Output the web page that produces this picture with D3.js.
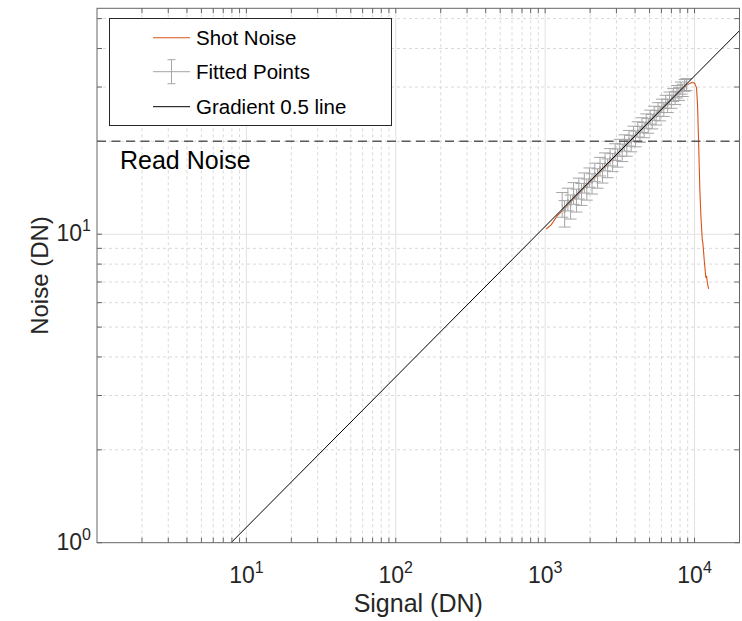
<!DOCTYPE html>
<html>
<head>
<meta charset="utf-8">
<script src="https://cdn.jsdelivr.net/npm/d3@7/dist/d3.min.js"></script>
<style>
  html, body { margin: 0; padding: 0; background: #fff; }
  svg { display: block; }
  text { font-family: "Liberation Sans", Arial, Helvetica, sans-serif; }
</style>
</head>
<body>
<svg id="chart" width="742" height="621"></svg>
<script>
// Photon transfer curve: noise vs signal on log-log axes

// Shot noise curve (signal DN, noise DN)
const shotSignal = [1016, 1097, 1204, 1321, 1495, 1744, 2376, 3236, 4406, 6003, 7568, 8831,
  9550, 10000, 10314, 10474, 10640, 10855, 11024, 11270, 11368, 11620, 11910, 12040, 12170, 12420];
const shotNoise = [10.40, 10.72, 11.47, 11.99, 12.77, 13.82, 16.05, 18.76, 21.79, 25.30, 28.30, 30.38,
  31.01, 30.94, 29.81, 26.26, 20.22, 13.92, 11.55, 9.58, 9.39, 8.22, 7.22, 7.33, 7.00, 6.65];

// Fitted points with their error (± DN)
const fitSignal = [1300, 1350, 1420, 1480, 1550, 1620, 1680, 1750, 1830, 1900, 1980, 2060, 2150, 2240,
  2330, 2420, 2520, 2620, 2720, 2830, 2940, 3050, 3160, 3280, 3400, 3520, 3640, 3770, 3900, 4030,
  4170, 4310, 4450, 4600, 4750, 4900, 5050, 5210, 5370, 5530, 5700, 5870, 6050, 6230, 6420, 6610,
  6800, 7000, 7200, 7420, 7640, 7870, 8100, 8340, 8580, 8830];
const fitNoise = [12.5, 11.7, 13.0, 12.3, 13.6, 12.9, 14.1, 13.5, 14.7, 14.0, 15.3, 14.6, 15.9, 15.2,
  16.6, 15.8, 17.2, 16.4, 17.8, 17.1, 18.5, 17.7, 19.1, 18.4, 19.8, 19.1, 20.5, 19.7, 21.2, 20.4,
  21.9, 21.1, 22.6, 21.8, 23.3, 22.5, 24.0, 23.2, 24.7, 23.9, 25.4, 24.6, 26.1, 25.4, 26.9, 26.1,
  27.6, 26.9, 28.3, 27.7, 29.0, 28.5, 29.8, 29.3, 30.4, 30.6];
const fitError = [1.15, 1.15, 1.1, 1.1, 1.1, 1.1, 1.1, 1.1, 1.1, 1.1, 1.1, 1.1, 1.1, 1.1,
  1.15, 1.15, 1.15, 1.15, 1.15, 1.15, 1.15, 1.2, 1.2, 1.2, 1.2, 1.2, 1.2, 1.2, 1.2, 1.2,
  1.25, 1.25, 1.25, 1.25, 1.25, 1.25, 1.25, 1.25, 1.3, 1.3, 1.3, 1.3, 1.3, 1.3, 1.3, 1.3,
  1.3, 1.3, 1.35, 1.35, 1.35, 1.35, 1.35, 1.35, 1.35, 1.35];

// Reference line end points and read noise level
const gradientSignal = [7.9, 20000];
const gradientNoise = [1, 45.7];
const readNoise = 20;

// Axis limits and tick labels
const xLimits = [1, 20000];
const yLimits = [1, 54];
const xTickValues = [10, 100, 1000, 10000];
const xTickExponents = ["1", "2", "3", "4"];
const yTickValues = [1, 10];
const yTickExponents = ["0", "1"];

const legendLabels = ["Shot Noise", "Fitted Points", "Gradient 0.5 line"];

const svg = d3.select("#chart");
const L = 97, R = 739.5, T = 8.3, B = 542.7;

const x = d3.scaleLog().domain(xLimits).range([L, R]);
const y = d3.scaleLog().domain(yLimits).range([B, T]);

// minor tick positions for each decade
function minorTicks(lo, hi) {
  const out = [];
  for (let p = Math.floor(Math.log10(lo)); p <= Math.ceil(Math.log10(hi)); p++) {
    for (let m = 2; m <= 9; m++) {
      const v = m * Math.pow(10, p);
      if (v > lo && v < hi) out.push(v);
    }
  }
  return out;
}
const xMinor = minorTicks(xLimits[0], xLimits[1]);
const yMinor = minorTicks(yLimits[0], yLimits[1]);

const grid = svg.append("g");
// minor grid (dotted)
grid.selectAll(".xm").data(xMinor).join("line")
  .attr("x1", d => x(d)).attr("x2", d => x(d)).attr("y1", T).attr("y2", B)
  .attr("stroke", "#d9d9d9").attr("stroke-width", 1).attr("stroke-dasharray", "3,3");
grid.selectAll(".ym").data(yMinor).join("line")
  .attr("y1", d => y(d)).attr("y2", d => y(d)).attr("x1", L).attr("x2", R)
  .attr("stroke", "#d9d9d9").attr("stroke-width", 1).attr("stroke-dasharray", "3,3");
// major grid (solid)
grid.selectAll(".xM").data(xTickValues).join("line")
  .attr("x1", d => x(d)).attr("x2", d => x(d)).attr("y1", T).attr("y2", B)
  .attr("stroke", "#e2e2e2").attr("stroke-width", 1);
grid.selectAll(".yM").data(yTickValues.filter(v => v > yLimits[0])).join("line")
  .attr("y1", d => y(d)).attr("y2", d => y(d)).attr("x1", L).attr("x2", R)
  .attr("stroke", "#e2e2e2").attr("stroke-width", 1);

const plot = svg.append("g");
svg.append("clipPath").attr("id", "clip").append("rect")
  .attr("x", L).attr("y", T).attr("width", R - L).attr("height", B - T);
plot.attr("clip-path", "url(#clip)");

// shot noise curve
const shot = shotSignal.map((s, i) => [s, shotNoise[i]]);
plot.append("path").datum(shot)
  .attr("d", d3.line().x(d => x(d[0])).y(d => y(d[1])))
  .attr("fill", "none").attr("stroke", "#D95319").attr("stroke-width", 1.1);

// fitted points with error bars
const fit = fitSignal.map((s, i) => ({ s, n: fitNoise[i], e: fitError[i] }));
const errColor = "#a6a6a6";
plot.append("path").datum(fit)
  .attr("d", d3.line().x(d => x(d.s)).y(d => y(d.n)))
  .attr("fill", "none").attr("stroke", errColor).attr("stroke-width", 1);
const bars = plot.append("g").attr("stroke", errColor).attr("stroke-width", 1);
fit.forEach(d => {
  const cx = x(d.s), y0 = y(d.n - d.e), y1 = y(d.n + d.e);
  bars.append("line").attr("x1", cx).attr("x2", cx).attr("y1", y0).attr("y2", y1);
  bars.append("line").attr("x1", cx - 6).attr("x2", cx + 6).attr("y1", y0).attr("y2", y0);
  bars.append("line").attr("x1", cx - 6).attr("x2", cx + 6).attr("y1", y1).attr("y2", y1);
});

// gradient 0.5 reference line
const grad = gradientSignal.map((s, i) => [s, gradientNoise[i]]);
plot.append("path").datum(grad)
  .attr("d", d3.line().x(d => x(d[0])).y(d => y(d[1])))
  .attr("fill", "none").attr("stroke", "#000").attr("stroke-width", 1);

// read noise level
plot.append("line")
  .attr("x1", L).attr("x2", R).attr("y1", y(readNoise)).attr("y2", y(readNoise))
  .attr("stroke", "#5a5a5a").attr("stroke-width", 1.5).attr("stroke-dasharray", "9,5.5");
svg.append("text").attr("x", 120).attr("y", y(readNoise) + 28)
  .attr("font-size", 25).attr("fill", "#000").text("Read Noise");

// axes frame and inward ticks
const axisColor = "#666";
const frame = svg.append("g").attr("stroke", axisColor).attr("stroke-width", 1).attr("fill", "none");
frame.append("rect").attr("x", L).attr("y", T).attr("width", R - L).attr("height", B - T);
const tickLen = 5;
xTickValues.concat(xMinor).forEach(v => {
  frame.append("line").attr("x1", x(v)).attr("x2", x(v)).attr("y1", B).attr("y2", B - tickLen);
  frame.append("line").attr("x1", x(v)).attr("x2", x(v)).attr("y1", T).attr("y2", T + tickLen);
});
yTickValues.concat(yMinor).forEach(v => {
  frame.append("line").attr("y1", y(v)).attr("y2", y(v)).attr("x1", L).attr("x2", L + tickLen);
  frame.append("line").attr("y1", y(v)).attr("y2", y(v)).attr("x1", R).attr("x2", R - tickLen);
});

// tick labels with superscript exponents
const labelColor = "#262626";
xTickValues.forEach((v, i) => {
  const t = svg.append("text").attr("x", x(v)).attr("y", 583)
    .attr("text-anchor", "middle").attr("fill", labelColor).attr("font-size", 23);
  t.append("tspan").text("10");
  t.append("tspan").attr("font-size", 16).attr("dy", -10).text(xTickExponents[i]);
});
yTickValues.forEach((v, i) => {
  const t = svg.append("text").attr("x", 91).attr("y", y(v) + 7)
    .attr("text-anchor", "end").attr("fill", labelColor).attr("font-size", 23);
  t.append("tspan").text("10");
  t.append("tspan").attr("font-size", 16).attr("dy", -10).text(yTickExponents[i]);
});

// axis titles
svg.append("text").attr("x", (L + R) / 2).attr("y", 612)
  .attr("text-anchor", "middle").attr("font-size", 25).attr("fill", labelColor).text("Signal (DN)");
svg.append("text").attr("transform", `translate(48,${(T + B) / 2}) rotate(-90)`)
  .attr("text-anchor", "middle").attr("font-size", 24).attr("fill", labelColor).text("Noise (DN)");

// legend
const lg = svg.append("g");
lg.append("rect").attr("x", 109.5).attr("y", 18.5).attr("width", 282).attr("height", 107)
  .attr("fill", "#fff").attr("stroke", "#262626").attr("stroke-width", 1);
const rowY = [37.7, 71.7, 106.7];
const sx0 = 153, sx1 = 190;
lg.append("line").attr("x1", sx0).attr("x2", sx1).attr("y1", rowY[0]).attr("y2", rowY[0])
  .attr("stroke", "#D95319").attr("stroke-width", 1.1);
lg.append("line").attr("x1", sx0).attr("x2", sx1).attr("y1", rowY[1]).attr("y2", rowY[1])
  .attr("stroke", errColor);
const ex = (sx0 + sx1) / 2;
lg.append("line").attr("x1", ex).attr("x2", ex).attr("y1", rowY[1] - 12).attr("y2", rowY[1] + 12).attr("stroke", errColor);
lg.append("line").attr("x1", ex - 4).attr("x2", ex + 4).attr("y1", rowY[1] - 12).attr("y2", rowY[1] - 12).attr("stroke", errColor);
lg.append("line").attr("x1", ex - 4).attr("x2", ex + 4).attr("y1", rowY[1] + 12).attr("y2", rowY[1] + 12).attr("stroke", errColor);
lg.append("line").attr("x1", sx0).attr("x2", sx1).attr("y1", rowY[2]).attr("y2", rowY[2])
  .attr("stroke", "#000").attr("stroke-width", 1);
legendLabels.forEach((s, i) => {
  lg.append("text").attr("x", 196).attr("y", rowY[i] + 7.5).attr("font-size", 20.5)
    .attr("fill", "#000").text(s);
});
</script>
</body>
</html>
